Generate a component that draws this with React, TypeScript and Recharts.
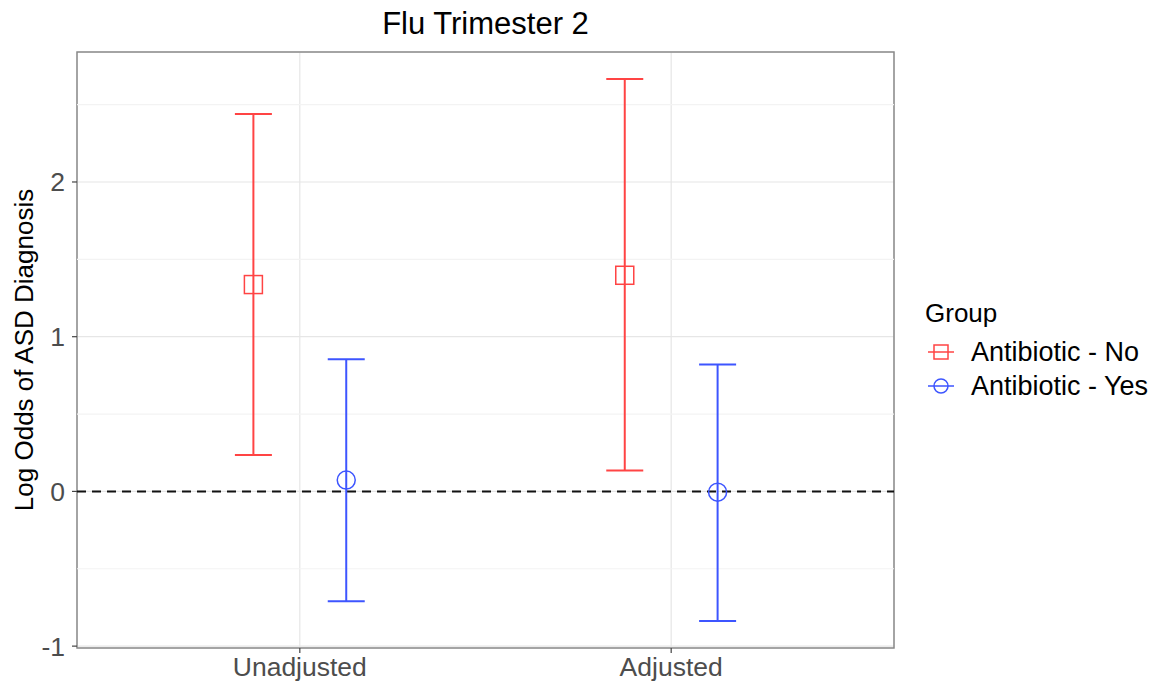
import { ComposedChart, Scatter, ErrorBar, XAxis, YAxis, CartesianGrid, ReferenceLine, ReferenceArea, Legend, Label } from 'recharts'

const categories = ['Unadjusted', 'Adjusted']
const groups = ['Antibiotic - No', 'Antibiotic - Yes']

// log odds estimate with 95% interval, per category
const noEstimate = [1.337, 1.397]
const noLower = [0.235, 0.135]
const noUpper = [2.44, 2.665]
const yesEstimate = [0.073, -0.005]
const yesLower = [-0.71, -0.837]
const yesUpper = [0.855, 0.82]

const yTicks = [-1, 0, 1, 2]
const yMinor = [-0.5, 0.5, 1.5, 2.5]

const RED = '#ff4444'
const BLUE = '#3d55ff'
const FONT = '"Liberation Sans", Arial, Helvetica, sans-serif'
const DODGE = 0.125
const xDomain = [0.4, 2.6]

function rows(est: number[], lo: number[], hi: number[], shift: number) {
  return categories.map((c, i) => ({
    group: c,
    x: i + 1 + shift,
    y: est[i],
    err: [est[i] - lo[i], hi[i] - est[i]],
  }))
}

const noData = rows(noEstimate, noLower, noUpper, -DODGE)
const yesData = rows(yesEstimate, yesLower, yesUpper, DODGE)

const allBounds = [...noLower, ...noUpper, ...yesLower, ...yesUpper]
const yMin = Math.min(...allBounds)
const yMax = Math.max(...allBounds)
const yPad = (yMax - yMin) * 0.05
const yDomain = [yMin - yPad, yMax + yPad]

const SquareShape = (p: any) => (
  <rect x={p.cx - 9} y={p.cy - 9} width={18} height={18} fill="none" stroke={RED} strokeWidth={1.5} />
)
const CircleShape = (p: any) => <circle cx={p.cx} cy={p.cy} r={9} fill="none" stroke={BLUE} strokeWidth={1.5} />

function GroupLegend() {
  return (
    <div style={{ fontFamily: FONT, color: '#000' }}>
      <div style={{ fontSize: 26, lineHeight: '30px', marginBottom: 7 }}>Group</div>
      {groups.map((g, i) => {
        const color = i === 0 ? RED : BLUE
        return (
          <div key={g} style={{ display: 'flex', alignItems: 'center', height: 34, fontSize: 27 }}>
            <svg width={31} height={24}>
              <line x1={3} x2={29} y1={12} y2={12} stroke={color} strokeWidth={1.5} />
              {i === 0 ? (
                <rect x={9} y={5} width={14} height={14} fill="none" stroke={color} strokeWidth={1.5} />
              ) : (
                <circle cx={16} cy={12} r={7} fill="none" stroke={color} strokeWidth={1.5} />
              )}
            </svg>
            <span style={{ marginLeft: 15 }}>{g}</span>
          </div>
        )
      })}
    </div>
  )
}

export default function App() {
  return (
    <div style={{ position: 'absolute', left: 0, top: 0, width: 1170, height: 688, background: '#fff' }}>
      <div
        style={{
          position: 'absolute',
          left: 77,
          width: 817,
          top: 8,
          textAlign: 'center',
          fontFamily: FONT,
          fontSize: 31,
          lineHeight: '31px',
          color: '#000',
        }}
      >
        Flu Trimester 2
      </div>
      <ComposedChart width={1170} height={688} margin={{ top: 52, right: 276, bottom: 0, left: 0 }}>
        <CartesianGrid stroke="#e6e6e6" strokeWidth={1.2} />
        {yMinor.map((v) => (
          <ReferenceLine key={v} y={v} stroke="#f3f3f3" strokeWidth={1.2} />
        ))}
        <XAxis
          type="number"
          dataKey="x"
          domain={xDomain}
          ticks={[1, 2]}
          tickFormatter={(v: number) => categories[v - 1]}
          allowDataOverflow
          height={40}
          tickSize={5}
          tickMargin={4}
          axisLine={false}
          tickLine={{ stroke: '#444', strokeWidth: 1.2 }}
          tick={{ fontSize: 26.5, fill: '#4d4d4d', fontFamily: FONT }}
        />
        <YAxis
          type="number"
          dataKey="y"
          domain={yDomain}
          ticks={yTicks}
          allowDataOverflow
          width={77}
          tickSize={5}
          tickMargin={7}
          axisLine={false}
          tickLine={{ stroke: '#444', strokeWidth: 1.2 }}
          tick={{ fontSize: 26.5, fill: '#4d4d4d', fontFamily: FONT }}
        >
          <Label
            value="Log Odds of ASD Diagnosis"
            angle={-90}
            position="insideLeft"
            offset={24}
            style={{ textAnchor: 'middle', fontSize: 26, fill: '#000', fontFamily: FONT }}
          />
        </YAxis>
        <ReferenceLine y={0} stroke="#111" strokeWidth={2} strokeDasharray="9 6" />
        <ReferenceArea
          x1={xDomain[0]}
          x2={xDomain[1]}
          y1={yDomain[0]}
          y2={yDomain[1]}
          fill="none"
          fillOpacity={0}
          stroke="#8a8a8a"
          strokeWidth={1.5}
          ifOverflow="visible"
        />
        <Scatter name={groups[0]} data={noData} shape={SquareShape} isAnimationActive={false}>
          <ErrorBar dataKey="err" direction="y" width={18.5} stroke={RED} strokeWidth={2} isAnimationActive={false} />
        </Scatter>
        <Scatter name={groups[1]} data={yesData} shape={CircleShape} isAnimationActive={false}>
          <ErrorBar dataKey="err" direction="y" width={18.5} stroke={BLUE} strokeWidth={2} isAnimationActive={false} />
        </Scatter>
        <Legend
          layout="vertical"
          align="center"
          verticalAlign="middle"
          content={<GroupLegend />}
          wrapperStyle={{ left: 925, top: 298, width: 245 }}
        />
      </ComposedChart>
    </div>
  )
}
